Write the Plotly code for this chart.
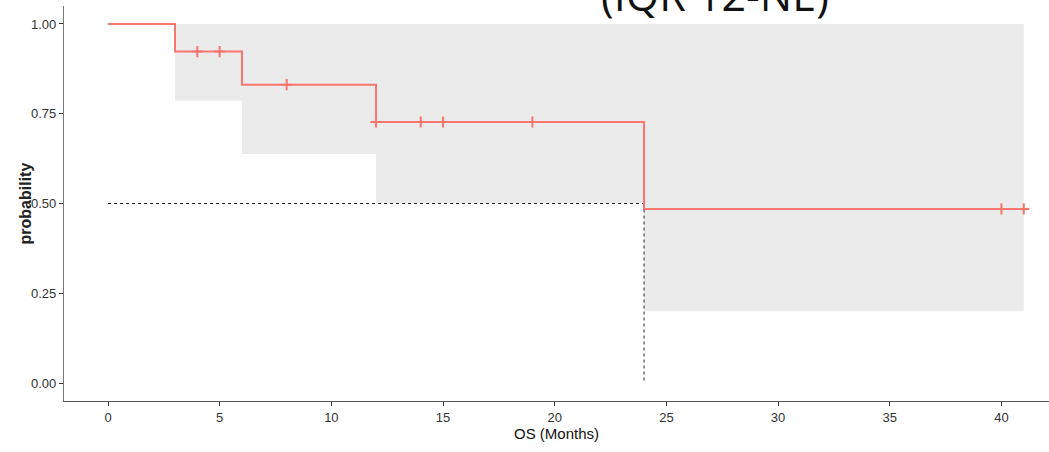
import plotly.graph_objects as go

# Kaplan-Meier estimate (step function) and its confidence band
step_times = [0, 3, 6, 12, 24, 41]
surv = [1.0, 0.923, 0.831, 0.727, 0.485, 0.485]
ci_lower = [1.0, 0.786, 0.638, 0.501, 0.200, 0.200]
ci_upper = [1.0, 1.0, 1.0, 1.0, 1.0, 1.0]

# censored observations
censor_times = [4, 5, 8, 12, 14, 15, 19, 40, 41]

median_time = 24
median_level = 0.5

x_ticks = [0, 5, 10, 15, 20, 25, 30, 35, 40]
y_ticks = [0.0, 0.25, 0.5, 0.75, 1.0]

KM_COLOR = "#F8766D"
BAND_COLOR = "#EBEBEB"
TICK_FONT = "Liberation Sans Narrow, Arial Narrow, Liberation Sans, Arial, sans-serif"


def surv_at(t):
    val = surv[0]
    for st, sv in zip(step_times, surv):
        if st <= t:
            val = sv
    return val


censor_surv = [surv_at(t) for t in censor_times]

fig = go.Figure()

# confidence band: lower edge, then upper edge filled down to it
fig.add_trace(go.Scatter(
    x=step_times, y=ci_lower, mode="lines", line=dict(width=0, shape="hv"),
    hoverinfo="skip", showlegend=False,
))
fig.add_trace(go.Scatter(
    x=step_times, y=ci_upper, mode="lines", line=dict(width=0, shape="hv"),
    fill="tonexty", fillcolor=BAND_COLOR, hoverinfo="skip", showlegend=False,
))

# median reference lines
fig.add_trace(go.Scatter(
    x=[0, median_time], y=[median_level, median_level], mode="lines",
    line=dict(color="#222222", width=1, dash="3px,3px"),
    hoverinfo="skip", showlegend=False,
))
fig.add_trace(go.Scatter(
    x=[median_time, median_time], y=[median_level, 0], mode="lines",
    line=dict(color="#222222", width=1, dash="3px,3px"),
    hoverinfo="skip", showlegend=False,
))

# survival curve
fig.add_trace(go.Scatter(
    x=step_times, y=surv, mode="lines",
    line=dict(color=KM_COLOR, width=2, shape="hv"), showlegend=False,
))

# censor marks
fig.add_trace(go.Scatter(
    x=censor_times, y=censor_surv, mode="markers",
    marker=dict(symbol="cross-thin", size=8, line=dict(color=KM_COLOR, width=2)),
    showlegend=False,
))

fig.add_annotation(
    text="(IQR 12-NE)", xref="paper", yref="paper", x=0.661, y=1.0,
    xanchor="center", yanchor="bottom", yshift=-20, showarrow=False,
    font=dict(family="Open Sans, Noto Sans, sans-serif", size=43, color="#111111"),
)

# y-axis title
fig.add_annotation(
    text="<b>probability</b>", xref="paper", yref="paper", x=-0.0386, y=0.5,
    xanchor="center", yanchor="middle", textangle=-90, showarrow=False,
    font=dict(family="Liberation Sans, Arial, sans-serif", size=16, color="#222222"),
)

fig.update_layout(
    width=1049, height=452,
    margin=dict(l=64, r=0, t=6, b=51),
    paper_bgcolor="white", plot_bgcolor="white",
    xaxis=dict(
        range=[-1.97, 42.13], tickvals=x_ticks, ticks="outside", ticklen=4,
        tickcolor="#333333", showline=True, linecolor="#555555", linewidth=1.2,
        showgrid=False, zeroline=False,
        tickfont=dict(family=TICK_FONT, size=13, color="#333333"),
        title=dict(text="OS (Months)", standoff=4,
                   font=dict(family=TICK_FONT, size=15, color="#111111")),
    ),
    yaxis=dict(
        range=[-0.05, 1.05], tickvals=y_ticks, ticktext=["0.00", "0.25", "0.50", "0.75", "1.00"],
        ticks="outside", ticklen=4, tickcolor="#333333",
        showline=True, linecolor="#777777", linewidth=1.2,
        showgrid=False, zeroline=False,
        tickfont=dict(family=TICK_FONT, size=13, color="#333333"),
    ),
)

fig.write_html("out.html")
